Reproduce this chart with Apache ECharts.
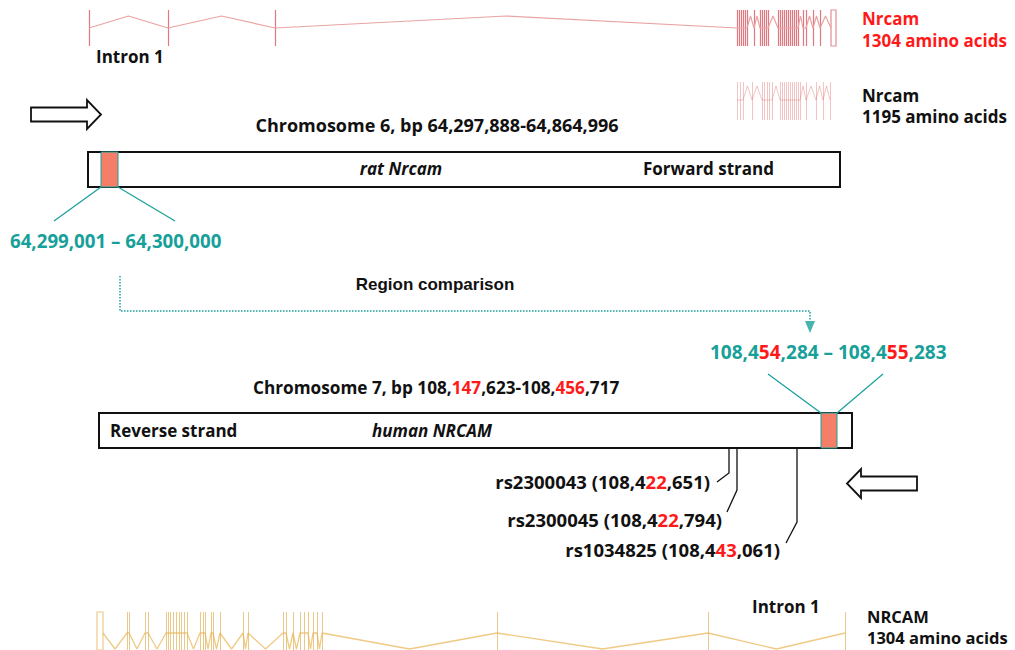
<!DOCTYPE html>
<html>
<head>
<meta charset="utf-8">
<script src="https://cdn.jsdelivr.net/npm/echarts@6.0.0/dist/echarts.min.js"></script>
<style>
  html, body { margin: 0; padding: 0; background: #fff; }
  #chart { width: 1015px; height: 650px; }
</style>
</head>
<body>
<div id="chart"></div>
<script>
// diagram units: 1 unit = 1 px of the 1015x650 figure
// exon positions of each transcript (left -> right)
const ratExons1304 = [89, 168, 275, 737, 739, 741, 743, 745, 747, 754, 760, 762, 764, 766, 768, 778, 780, 782, 784, 786, 788, 790, 792, 794, 796, 798, 803, 806, 813, 820, 831]
const ratExons1195 = [737, 740, 743, 752, 762, 764, 767, 769, 772, 780, 782, 784, 786, 788, 790, 792, 794, 796, 798, 800, 806, 816, 823, 830]
const humanExons = [103, 127, 129, 145, 148, 166, 168, 170, 173, 176, 179, 181, 184, 187, 200, 203, 205, 211, 213, 220, 243, 248, 283, 286, 293, 300, 304, 308, 313, 317, 322, 497, 708, 845]
// UTR boxes [x0, x1]
const ratUtr = [831, 836]
const humanUtr = [97, 103]

// chromosome boxes [x0, y0, x1, y1] and compared regions
const chromBoxes = [[88, 152, 840, 187], [99, 413, 852, 448]]
const regionBoxes = [[101, 152, 118, 187], [821, 413, 837, 448]]

// connector paths
const tealLinks = [
  [[101, 187], [54, 221]], [[118, 187], [175, 221]],
  [[821, 413], [768, 374]], [[837, 413], [883, 374]]
]
const comparisonPath = [[120, 276], [120, 311], [810, 311], [810, 321]]
const snpLinks = [
  [[729, 448], [729, 473], [717, 482]],
  [[737, 448], [737, 490], [727, 512]],
  [[797, 448], [797, 522], [786, 543]]
]
// snp labels [name, prefix, red part, suffix]
const snpNames = ['rs2300043', 'rs2300045', 'rs1034825']
const snpPos = [['108,4', '22', ',651'], ['108,4', '22', ',794'], ['108,4', '43', ',061']]

const TEAL = '#17a09a'
const SALMON = '#f47e68'
const RED = '#ff1a1a'

let chart = echarts.init(document.getElementById('chart'), null, { renderer: 'svg' })

function exonBars(exons, y0, y1) {
  return exons.map(x => [x, y0, y1])
}
// zigzag intron line through exon positions, no peak inside tight exon clusters
function intronPath(exons, base, peak) {
  let pts = []
  for (let i = 0; i < exons.length; i++) {
    pts.push([exons[i], base])
    if (i < exons.length - 1 && exons[i + 1] - exons[i] > 4) pts.push([(exons[i] + exons[i + 1]) / 2, peak])
  }
  return pts
}

function barSeries(name, data, color, width) {
  return {
    name: name,
    type: 'custom',
    silent: true,
    clip: false,
    z: 3,
    data: data,
    encode: { x: 0, y: 1 },
    renderItem: (params, api) => {
      let p0 = api.coord([api.value(0), api.value(1)])
      let p1 = api.coord([api.value(0), api.value(2)])
      return {
        type: 'line',
        shape: { x1: p0[0] + 0.5, y1: p0[1], x2: p1[0] + 0.5, y2: p1[1] },
        style: { stroke: color, lineWidth: width }
      }
    }
  }
}
function rectSeries(name, data, style) {
  return {
    name: name,
    type: 'custom',
    silent: true,
    clip: false,
    data: data,
    encode: { x: [0, 2], y: [1, 3] },
    renderItem: (params, api) => {
      let p0 = api.coord([api.value(0), api.value(1)])
      let p1 = api.coord([api.value(2), api.value(3)])
      return {
        type: 'rect',
        shape: { x: p0[0], y: p0[1], width: p1[0] - p0[0], height: p1[1] - p0[1] },
        style: style
      }
    }
  }
}
function lineSeries(name, pts, color, width) {
  return {
    name: name,
    type: 'line',
    silent: true,
    symbol: 'none',
    data: pts,
    lineStyle: { color: color, width: width },
    animation: false
  }
}
function linkSeries(name, paths, color, width, type) {
  return {
    name: name,
    type: 'lines',
    coordinateSystem: 'cartesian2d',
    polyline: true,
    silent: true,
    data: paths.map(p => ({ coords: p })),
    lineStyle: { color: color, width: width, type: type || 'solid', opacity: 1 }
  }
}

const FONT = '"Open Sans", Lato, sans-serif'
function txt(text, x, y, opts) {
  opts = opts || {}
  return {
    type: 'text',
    x: x,
    y: y,
    z: 100,
    silent: true,
    style: {
      text: text,
      fill: opts.color || '#111',
      font: (opts.italic ? 'italic ' : '') + (opts.weight || 'bold') + ' ' + (opts.size || 17) + 'px ' + (opts.family || FONT),
      lineHeight: opts.lineHeight || 18,
      align: opts.align || 'left',
      verticalAlign: 'middle',
      rich: opts.rich
    }
  }
}
function richStyles(base, size) {
  return {
    b: { fill: base, fontWeight: 'bold', fontSize: size, fontFamily: FONT, lineHeight: 18 },
    r: { fill: RED, fontWeight: 'bold', fontSize: size, fontFamily: FONT, lineHeight: 18 }
  }
}
function snpText(i) {
  return '{b|' + snpNames[i] + ' (' + snpPos[i][0] + '}{r|' + snpPos[i][1] + '}{b|' + snpPos[i][2] + ')}'
}

let option = {
  animation: false,
  grid: { left: 0, right: 0, top: 0, bottom: 0 },
  xAxis: { type: 'value', min: 0, max: 1015, show: false },
  yAxis: { type: 'value', min: 0, max: 650, inverse: true, show: false },
  series: [
    // rat Nrcam 1304 aa
    lineSeries('rat1304 introns', intronPath(ratExons1304, 28, 16), '#eaa3a3', 1.2),
    barSeries('rat1304 exons', exonBars(ratExons1304.slice(0, -1), 10, 46), 'rgba(200,30,45,0.6)', 1.2),
    rectSeries('rat1304 utr', [[ratUtr[0], 10, ratUtr[1], 46]], { fill: 'none', stroke: 'rgba(196,30,45,0.5)', lineWidth: 1.2 }),
    // rat Nrcam 1195 aa
    lineSeries('rat1195 introns', intronPath(ratExons1195, 100, 86), 'rgba(225,110,110,0.4)', 1),
    barSeries('rat1195 exons', exonBars(ratExons1195, 82, 120), 'rgba(215,60,60,0.3)', 1),
    // human NRCAM
    lineSeries('human introns', intronPath(humanExons, 633, 649), 'rgba(232,180,80,0.7)', 1.3),
    barSeries('human exons', exonBars(humanExons.slice(1), 612, 650), 'rgba(215,155,40,0.55)', 1),
    rectSeries('human utr', [[humanUtr[0], 612, humanUtr[1], 650]], { fill: 'none', stroke: 'rgba(218,160,45,0.55)', lineWidth: 1.2 }),
    // chromosomes
    rectSeries('chromosomes', chromBoxes, { fill: '#fff', stroke: '#111', lineWidth: 2 }),
    rectSeries('regions', regionBoxes, { fill: SALMON, stroke: TEAL, lineWidth: 1 }),
    // connectors
    linkSeries('region links', tealLinks, TEAL, 1.2),
    linkSeries('comparison', [comparisonPath], TEAL, 1.5, 'dotted'),
    linkSeries('snp links', snpLinks, '#111', 1.3),
    {
      name: 'arrow head',
      type: 'scatter',
      silent: true,
      symbol: 'triangle',
      symbolRotate: 180,
      symbolSize: [10, 12],
      itemStyle: { color: TEAL },
      data: [[810, 327]]
    },
    // strand arrows
    {
      name: 'strand arrows',
      type: 'custom',
      silent: true,
      clip: false,
      data: [[66, 114.5, 1], [882, 483.5, -1]],
      encode: { x: 0, y: 1 },
      renderItem: (params, api) => {
        let c = api.coord([api.value(0), api.value(1)])
        let d = api.value(2)
        let pts = [[-35, -7], [21, -7], [21, -14.5], [35, 0], [21, 14.5], [21, 7], [-35, 7]]
        return {
          type: 'polygon',
          shape: { points: pts.map(p => [c[0] + d * p[0], c[1] + p[1]]) },
          style: { fill: '#fff', stroke: '#111', lineWidth: 1.8 }
        }
      }
    }
  ],
  graphic: [
    txt('Nrcam\n1304 amino acids', 862, 29, { color: RED, lineHeight: 22 }),
    txt('Nrcam\n1195 amino acids', 862, 105.5, { lineHeight: 21 }),
    txt('Intron 1', 96, 56),
    txt('Chromosome 6, bp 64,297,888-64,864,996', 437, 125, { align: 'center', size: 18 }),
    txt('rat Nrcam', 401, 168, { italic: true, align: 'center' }),
    txt('Forward strand', 643, 168),
    txt('64,299,001 – 64,300,000', 10, 240, { color: TEAL, size: 18.7 }),
    txt('Region comparison', 435, 284, { align: 'center', family: '"Liberation Sans Narrow", sans-serif', size: 17 }),
    txt('{b|108,4}{r|54}{b|,284 – 108,4}{r|55}{b|,283}', 710, 352, { rich: richStyles(TEAL, 19) }),
    txt('{b|Chromosome 7, bp 108,}{r|147}{b|,623-108,}{r|456}{b|,717}', 253, 387, { rich: richStyles('#111', 17.2) }),
    txt('Reverse strand', 110, 430),
    txt('human NRCAM', 372, 430, { italic: true }),
    txt(snpText(0), 710, 481, { align: 'right', rich: richStyles('#111', 18.5) }),
    txt(snpText(1), 722, 519, { align: 'right', rich: richStyles('#111', 18.5) }),
    txt(snpText(2), 780, 549, { align: 'right', rich: richStyles('#111', 18.5) }),
    txt('Intron 1', 752, 606),
    txt('NRCAM\n1304 amino acids', 867, 626.5, { size: 16.5, lineHeight: 21 })
  ]
}
chart.setOption(option)
</script>
</body>
</html>
